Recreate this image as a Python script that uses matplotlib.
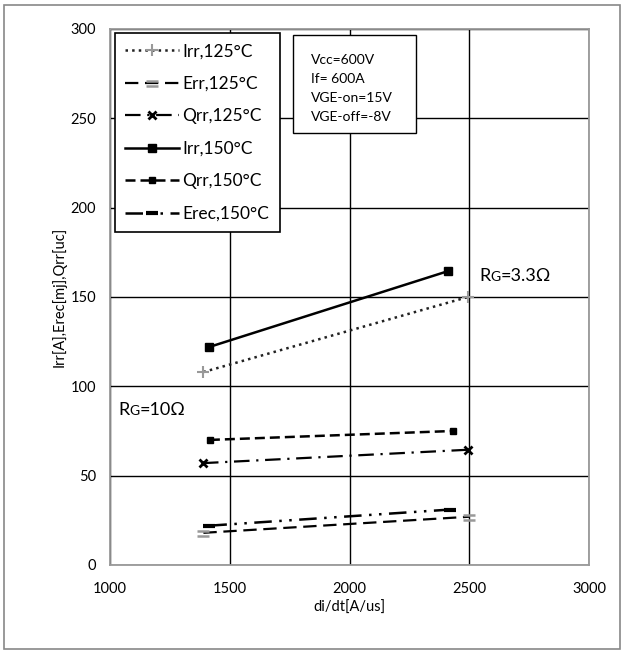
import matplotlib
matplotlib.use('Agg')
import matplotlib.pyplot as plt
from matplotlib.path import Path
from matplotlib.patches import Rectangle
from matplotlib.offsetbox import TextArea, HPacker, AnchoredOffsetbox

plt.rcParams['font.family'] = ['Lato', 'DejaVu Sans']

# data
labels = ['Irr,125°C', 'Err,125°C', 'Qrr,125°C', 'Irr,150°C', 'Qrr,150°C', 'Erec,150°C']
irr_125_x = [1390, 2495]
irr_125_y = [108, 150]
err_125_x = [1390, 2500]
err_125_y = [18, 27]
qrr_125_x = [1388, 2495]
qrr_125_y = [57, 64.5]
irr_150_x = [1414, 2412]
irr_150_y = [122, 164.5]
qrr_150_x = [1417, 2432]
qrr_150_y = [70, 75]
erec_150_x = [1415, 2418]
erec_150_y = [22, 31]

info_lines = ['Vcc=600V', 'If= 600A', 'VGE-on=15V', 'VGE-off=-8V']

# "=" style marker for Err
eq_marker = Path([(-1, 0.45), (1, 0.45), (-1, -0.45), (1, -0.45)],
                 [Path.MOVETO, Path.LINETO, Path.MOVETO, Path.LINETO])

fig = plt.figure(figsize=(6.24, 6.53), dpi=100)
ax = fig.add_axes([0.1763, 0.1348, 0.7676, 0.8208])

ax.plot(irr_125_x, irr_125_y, color='#222222', ls=':', lw=1.8,
        marker='+', ms=8, mec='#999999', mew=1.5, label=labels[0])
ax.plot(err_125_x, err_125_y, color='black', lw=1.6, dashes=(6, 3),
        marker=eq_marker, ms=8, mec='#999999', mew=1.8, label=labels[1])
ax.plot(qrr_125_x, qrr_125_y, color='black', lw=1.6, dashes=(7, 3, 1, 3),
        marker='x', ms=6, mec='black', mew=2, label=labels[2])
ax.plot(irr_150_x, irr_150_y, color='black', lw=1.8, ls='-',
        marker='s', ms=6, label=labels[3])
ax.plot(qrr_150_x, qrr_150_y, color='black', lw=1.8, dashes=(4, 2),
        marker='s', ms=4, label=labels[4])
ax.plot(erec_150_x, erec_150_y, color='black', lw=1.8, dashes=(7, 3, 1, 3, 1, 3),
        marker='_', ms=9, mew=3, label=labels[5])

ax.set_xlim(1000, 3000)
ax.set_ylim(0, 300)
ax.set_xticks([1000, 1500, 2000, 2500, 3000])
ax.set_yticks([0, 50, 100, 150, 200, 250, 300])
ax.tick_params(length=0, labelsize=10.5)
ax.tick_params(axis='y', pad=10)
ax.tick_params(axis='x', pad=12)
ax.grid(True, color='black', lw=1)
for s in ax.spines.values():
    s.set_color('#999999')
    s.set_linewidth(1.3)

ax.set_xlabel('di/dt[A/us]', fontsize=10.5, labelpad=4)
ax.set_ylabel('Irr[A],Erec[mj],Qrr[uc]', fontsize=10.5, labelpad=3)

leg = ax.legend(loc='upper left', bbox_to_anchor=(0.01, 0.993), borderaxespad=0,
                fontsize=12.5, handlelength=3.1, labelspacing=0.95, handletextpad=0.2,
                fancybox=False, framealpha=1, edgecolor='black', borderpad=0.6)
leg.get_frame().set_linewidth(1.2)

# condition box
ax.add_patch(Rectangle((0.381, 0.806), 0.258, 0.183, transform=ax.transAxes,
                       fc='white', ec='black', lw=1, zorder=5))
for i, line in enumerate(info_lines):
    ax.text(0.42, 0.942 - i * 0.0355, line, transform=ax.transAxes,
            fontsize=10, va='center', ha='left', zorder=6)


def rg_label(value, xy):
    parts = [TextArea('R', textprops=dict(fontsize=13)),
             TextArea('G', textprops=dict(fontsize=10)),
             TextArea('=' + value, textprops=dict(fontsize=13))]
    box = HPacker(children=parts, align='baseline', pad=0, sep=0)
    anchored = AnchoredOffsetbox(loc='center left', child=box, frameon=False,
                                 bbox_to_anchor=xy, bbox_transform=ax.transData,
                                 borderpad=0)
    ax.add_artist(anchored)


rg_label('3.3Ω', (2520, 162))
rg_label('10Ω', (1010, 87))

fig.patches.append(Rectangle((0.007, 0.006), 0.986, 0.987, transform=fig.transFigure,
                             fill=False, ec='#888888', lw=1.2))

fig.savefig('out.png', dpi=100)
